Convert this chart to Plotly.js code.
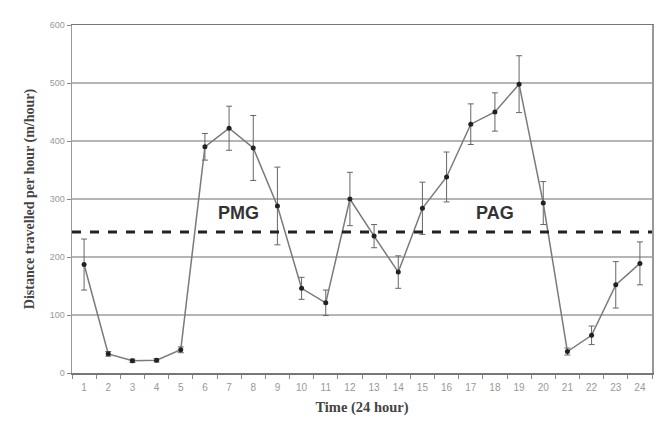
<!DOCTYPE html>
<html>
<head>
<meta charset="utf-8">
<script src="https://cdn.plot.ly/plotly-3.0.1.min.js"></script>
<style>html,body{margin:0;padding:0;background:#fff;}#chart{width:659px;height:423px;}</style>
</head>
<body>
<div id="chart"></div>
<script>
const hours = ["1","2","3","4","5","6","7","8","9","10","11","12","13","14","15","16","17","18","19","20","21","22","23","24"];
const distance = [187, 33, 21, 22, 40, 390, 422, 388, 288, 146, 121, 300, 236, 174, 284, 338, 429, 450, 498, 293, 37, 65, 152, 189];
const errorSE = [44, 4, 3, 3, 5, 23, 38, 56, 67, 19, 22, 46, 20, 28, 45, 43, 35, 33, 49, 37, 6, 16, 40, 37];
const meanLine = 243;
const yTicks = [0, 100, 200, 300, 400, 500, 600];
const phaseLabels = ["PMG", "PAG"];
const phaseX = [6.37, 17.0];
const phaseY = [276, 276];

const trace = {
  x: hours,
  y: distance,
  type: 'scatter',
  mode: 'lines+markers',
  line: {color: '#7a7a7a', width: 1.5},
  marker: {color: '#222', size: 5},
  error_y: {type: 'data', array: errorSE, visible: true, color: '#666', thickness: 1, width: 3},
  hoverinfo: 'skip'
};

const layout = {
  width: 659, height: 423,
  margin: {l: 72, r: 7, t: 25, b: 50},
  paper_bgcolor: '#fff',
  plot_bgcolor: '#fff',
  showlegend: false,
  font: {family: 'Arial, Liberation Sans, sans-serif', color: '#888'},
  xaxis: {
    type: 'category',
    range: [-0.5, 23.5],
    tickson: 'boundaries',
    ticks: 'outside', ticklen: 4, tickcolor: '#888',
    ticklabelstandoff: 4,
    showgrid: false,
    showline: true, linecolor: '#777', linewidth: 1.5,
    mirror: true,
    tickfont: {size: 10, color: '#999'},
    title: {text: 'Time (24 hour)', font: {family: 'Liberation Serif, Times New Roman, serif', size: 14.5, color: '#444', weight: 'bold'}, standoff: 10}
  },
  yaxis: {
    range: [0, 600],
    tickvals: yTicks,
    ticktext: yTicks.map(String),
    ticks: 'outside', ticklen: 4, tickcolor: '#888',
    showgrid: true, gridcolor: '#b5b5b5', gridwidth: 2,
    showline: true, linecolor: '#999', linewidth: 1.5,
    mirror: true,
    zeroline: false,
    tickfont: {size: 9, color: '#999'},
    title: {text: 'Distance travelled per hour (m/hour)', font: {family: 'Liberation Serif, Times New Roman, serif', size: 14, color: '#444', weight: 'bold'}, standoff: 12}
  },
  shapes: [{
    type: 'line', xref: 'paper', x0: 0, x1: 1, yref: 'y', y0: meanLine, y1: meanLine,
    line: {color: '#222', width: 3, dash: 'dash'}
  }],
  annotations: phaseLabels.map((t, i) => ({
    x: phaseX[i], y: phaseY[i], xref: 'x', yref: 'y', text: t, showarrow: false,
    font: {family: 'Arial, Liberation Sans, sans-serif', size: 18, color: '#333', weight: 'bold'}
  }))
};

Plotly.newPlot('chart', [trace], layout, {staticPlot: true, displayModeBar: false});
</script>
</body>
</html>
